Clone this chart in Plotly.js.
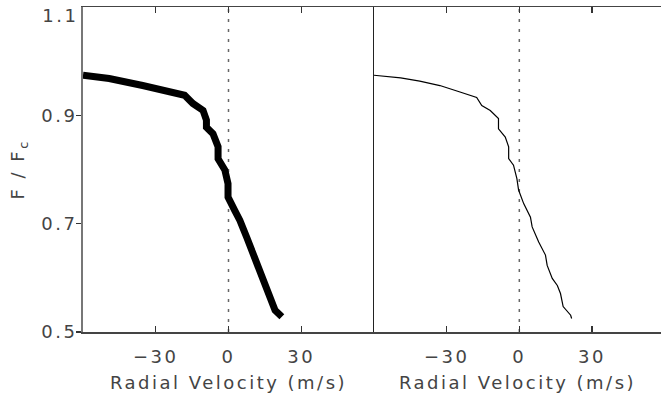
<!DOCTYPE html>
<html>
<head>
<meta charset="utf-8">
<script src="https://cdn.plot.ly/plotly-3.0.1.min.js"></script>
<style>
html, body { margin: 0; padding: 0; overflow: hidden; background: #fff; }
#chart { width: 661px; height: 403px; }
#chart .xtick text, #chart .x2tick text, #chart .ytick text,
#chart .xtitle, #chart .x2title, #chart .ytitle, #chart .annotation-text { letter-spacing: 2.5px; }
</style>
</head>
<body>
<div id="chart"></div>
<script>
// Left panel (thick, overlaid bisectors)
const leftVel  = [-60, -49.2, -35.4, -21.6, -18.1, -14.7, -10.5, -9.1, -9.1, -6.4, -4.3, -4.3, -1.5, -0.2, -0.2, 2.6, 4.7, 7.5, 10.2, 12.3, 15.1, 17.1, 19.2, 22.0];
const leftFlux = [0.974, 0.968, 0.955, 0.943, 0.937, 0.922, 0.909, 0.891, 0.878, 0.866, 0.842, 0.820, 0.799, 0.774, 0.749, 0.724, 0.706, 0.675, 0.645, 0.614, 0.589, 0.565, 0.540, 0.528];
// Right panel (single thin bisector)
const rightVel  = [-60, -49, -41.1, -32.8, -24.5, -17.6, -15.5, -12.0, -8.6, -8.6, -5.8, -4.4, -4.4, -2.4, -1.0, -0.3, 1.8, 4.6, 5.3, 8.0, 10.8, 11.5, 13.6, 15.7, 17.0, 18.1, 21.2, 21.6];
const rightFlux = [0.974, 0.969, 0.963, 0.955, 0.943, 0.933, 0.918, 0.909, 0.894, 0.875, 0.860, 0.842, 0.820, 0.808, 0.783, 0.762, 0.737, 0.712, 0.694, 0.666, 0.642, 0.623, 0.599, 0.586, 0.571, 0.547, 0.531, 0.525];
const xTicks = [-30, 0, 30];
const xTickText = ['\u221230', '0', '30'];
const yTicks = [0.5, 0.7, 0.9];
const yTickText = ['0.5', '0.7', '0.9'];
const yTopLabel = '1.1';

const font = {family: 'DejaVu Sans', size: 18, color: '#444'};

const traces = [
  {x: leftVel, y: leftFlux, xaxis: 'x', yaxis: 'y', mode: 'lines',
   line: {color: '#000', width: 7}, hoverinfo: 'skip'},
  {x: rightVel, y: rightFlux, xaxis: 'x2', yaxis: 'y2', mode: 'lines',
   line: {color: '#000', width: 1.2}, hoverinfo: 'skip'}
];

const split = 291 / 578;
const xCommon = {
  tickvals: xTicks, ticktext: xTickText, ticks: 'inside', ticklen: 6, tickcolor: '#333', tickwidth: 1.2,
  showline: true, linecolor: '#444', linewidth: 1.5, mirror: 'ticks',
  showgrid: false, zeroline: false, tickfont: font, ticklabelstandoff: 8,
  title: {text: 'Radial Velocity (m/s)', font: font, standoff: 10}
};

const layout = {
  width: 661, height: 403,
  margin: {l: 83, r: 0, t: 7, b: 71, pad: 0},
  paper_bgcolor: '#fff', plot_bgcolor: '#fff',
  showlegend: false,
  font: font,
  xaxis: Object.assign({}, xCommon, {domain: [0, split], range: [-60, 60], anchor: 'y'}),
  xaxis2: Object.assign({}, xCommon, {domain: [split, 1], range: [-60, 58.5], anchor: 'y2'}),
  yaxis: {domain: [0, 1], range: [0.5, 1.1], tickvals: yTicks, ticktext: yTickText,
    ticks: 'outside', ticklen: 5, tickcolor: '#333', tickwidth: 1.2,
    showline: true, linecolor: '#777', linewidth: 2, mirror: false,
    showgrid: false, zeroline: false, tickfont: font, anchor: 'x', ticklabelstandoff: -5,
    title: {text: 'F / F<sub>c</sub>', font: font, standoff: 19}},
  yaxis2: {domain: [0, 1], range: [0.5, 1.1], anchor: 'x2', showticklabels: false, ticks: '',
    showline: true, linecolor: '#222', linewidth: 1, showgrid: false, zeroline: false},
  annotations: [
    {text: yTopLabel, xref: 'paper', yref: 'y', x: 0, y: 1.1, xanchor: 'right', yanchor: 'middle',
     xshift: -6, yshift: -8, showarrow: false, font: font}
  ],
  shapes: [
    {type: 'line', xref: 'x', yref: 'paper', x0: 0, x1: 0, y0: 0, y1: 1, layer: 'below',
     line: {color: '#666', width: 1.5, dash: '3px,7px'}},
    {type: 'line', xref: 'x2', yref: 'paper', x0: 0, x1: 0, y0: 0, y1: 1, layer: 'below',
     line: {color: '#666', width: 1.5, dash: '3px,7px'}}
  ]
};

Plotly.newPlot('chart', traces, layout, {staticPlot: true, displayModeBar: false});
</script>
</body>
</html>
